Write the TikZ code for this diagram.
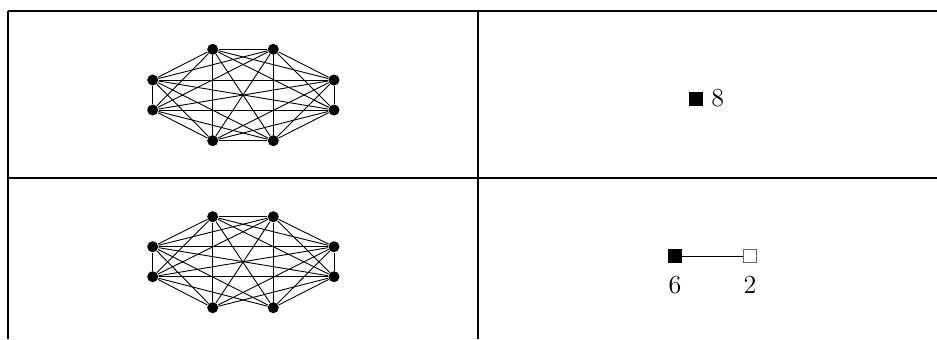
\documentclass[tikz,border=0pt]{standalone}
\begin{document}
\begin{tikzpicture}[x=0.5pt,y=-0.5pt,
  rule/.style={line width=0.9pt},
  vtx/.style={circle,fill=black,inner sep=0pt,minimum size=5.5pt},
  edge/.style={line width=0.45pt},
  bsq/.style={rectangle,fill=black,draw=black,inner sep=0pt,minimum size=6.5pt},
  wsq/.style={rectangle,fill=white,draw=black!60,line width=0.45pt,inner sep=0pt,minimum size=6.5pt},
  lab/.style={inner sep=0pt,font=\fontsize{13}{15}\selectfont}]
\useasboundingbox (0,0) rectangle (937,339);
% table rules
\coordinate (tl) at (8,11);
\coordinate (tr) at (937,11);
\coordinate (ml) at (8,178);
\coordinate (mr) at (937,178);
\coordinate (bl) at (8,339);
\coordinate (tm) at (478,11);
\coordinate (bm) at (478,339);
\draw[rule] (tl) -- (tr);
\draw[rule] (ml) -- (mr);
\draw[rule] (tl) -- (bl);
\draw[rule] (tm) -- (bm);
% top graph (K8)
\foreach \n/\x/\y in {a1/212.7/49.3, a2/273.3/49.3, a3/334/80, a4/334/110, a5/273.3/140.7, a6/212.7/140.7, a7/152.7/110, a8/152.7/80}
  \node[vtx] (\n) at (\x,\y) {};
\foreach \i in {1,...,8}{
  \foreach \j in {1,...,8}{
    \ifnum\i<\j \draw[edge] (a\i) -- (a\j); \fi
  }
}
% bottom graph (K8 minus one edge)
\foreach \n/\x/\y in {b1/212.7/216.7, b2/273.3/216.7, b3/334/246.7, b4/334/276.7, b5/273.3/307.7, b6/212.7/307.7, b7/152.7/276.7, b8/152.7/246.7}
  \node[vtx] (\n) at (\x,\y) {};
\foreach \i in {1,...,8}{
  \foreach \j in {1,...,8}{
    \ifnum\i<\j
      \ifnum\i=5 \ifnum\j=6 \else \draw[edge] (b\i) -- (b\j); \fi
      \else \draw[edge] (b\i) -- (b\j); \fi
    \fi
  }
}
% right column
\node[bsq] (q1) at (696,98.5) {};
\node[lab,anchor=west] (l1) at (711,98.5) {8};
\node[bsq] (q2) at (675,256) {};
\node[wsq] (q3) at (750,256) {};
\draw[edge] (q2) -- (q3);
\node[lab] (l2) at (675,285) {6};
\node[lab] (l3) at (750,285) {2};
\end{tikzpicture}
\end{document}
